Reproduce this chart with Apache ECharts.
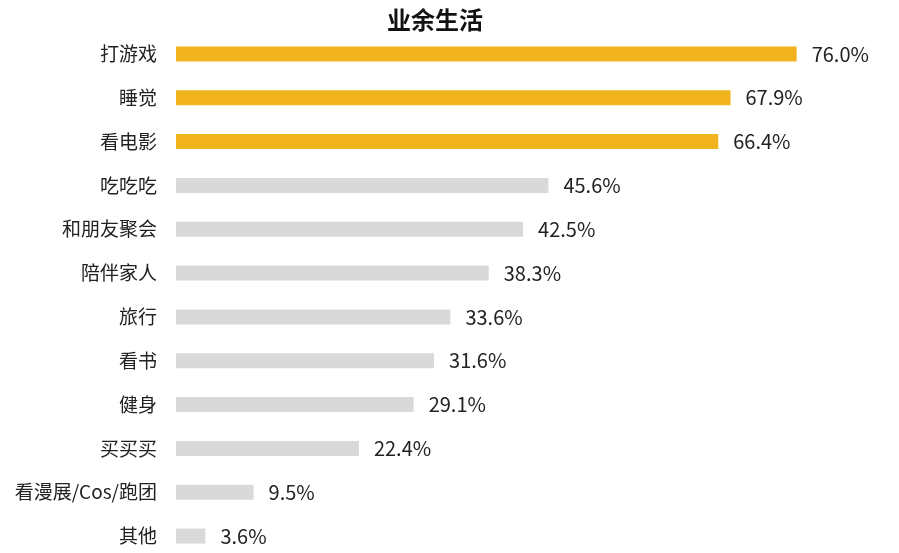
<!DOCTYPE html>
<html><head><meta charset="utf-8">
<script src="https://cdn.jsdelivr.net/npm/echarts@6/dist/echarts.min.js"></script>
<style>html,body{margin:0;padding:0;background:#fff}#c{width:899px;height:553px}</style>
</head><body><div id="c"></div>
<script>
const categories = ['打游戏','睡觉','看电影','吃吃吃','和朋友聚会','陪伴家人','旅行','看书','健身','买买买','看漫展/Cos/跑团','其他'];
const values = [76.0, 67.9, 66.4, 45.6, 42.5, 38.3, 33.6, 31.6, 29.1, 22.4, 9.5, 3.6];
const highlightCount = 3;
const titleText = '业余生活';

const chart = echarts.init(document.getElementById('c'));
chart.setOption({
  animation: false,
  title: {
    text: titleText, left: 430, top: 3, textAlign: 'center',
    textStyle: {fontFamily: 'Noto Sans CJK SC', fontSize: 24, fontWeight: 'bold', color: '#111'}
  },
  grid: {left: 176, top: 32, width: 653.3, height: 526, containLabel: false, outerBoundsMode: 'none'},
  xAxis: {type: 'value', min: 0, max: 80, show: false},
  yAxis: {
    type: 'category', data: categories, inverse: true,
    axisLine: {show: false}, axisTick: {show: false},
    axisLabel: {margin: 19, fontFamily: 'Noto Sans CJK SC', fontSize: 19, color: '#222'}
  },
  series: [{
    type: 'bar', barWidth: 15,
    data: values.map((v, i) => ({value: v, itemStyle: {color: i < highlightCount ? '#F2B41E' : '#D9D9D9'}})),
    label: {
      show: true, position: 'right', distance: 15,
      formatter: p => p.value.toFixed(1) + '%',
      fontFamily: 'Noto Sans CJK SC', fontSize: 20, color: '#222'
    }
  }]
});
</script></body></html>
